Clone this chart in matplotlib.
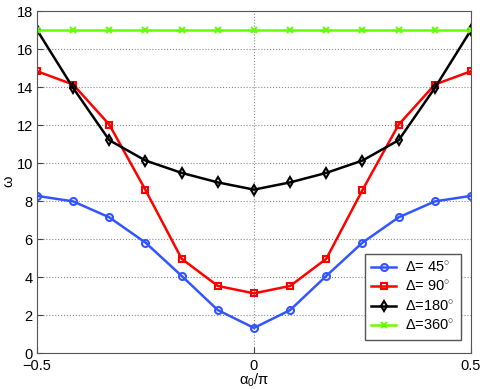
import numpy as np
import matplotlib
matplotlib.use('Agg')
import matplotlib.pyplot as plt

plt.rcParams['font.family'] = ['Liberation Sans', 'DejaVu Sans']
plt.rcParams['mathtext.fontset'] = 'custom'
plt.rcParams['mathtext.rm'] = 'Liberation Sans'
plt.rcParams['mathtext.it'] = 'Liberation Sans'

# alpha_0/pi sample points
alpha = [-0.5, -5/12, -4/12, -3/12, -2/12, -1/12, 0, 1/12, 2/12, 3/12, 4/12, 5/12, 0.5]

# omega for each Delta
w45 = [8.27, 7.98, 7.14, 5.81, 4.06, 2.26, 1.32, 2.26, 4.06, 5.81, 7.14, 7.98, 8.27]
w90 = [14.83, 14.13, 12.02, 8.58, 4.96, 3.53, 3.14, 3.53, 4.96, 8.58, 12.02, 14.13, 14.83]
w180 = [17.0, 13.95, 11.2, 10.13, 9.48, 8.98, 8.6, 8.98, 9.48, 10.13, 11.2, 13.95, 17.0]
w360 = [17.0] * 13

labels = [r'$\Delta$= 45$^{\circ}$', r'$\Delta$= 90$^{\circ}$',
          r'$\Delta$=180$^{\circ}$', r'$\Delta$=360$^{\circ}$']

fig = plt.figure(figsize=(4.84, 3.89), dpi=100)
ax = fig.add_axes([0.0764, 0.0925, 0.8967, 0.8792])

ax.plot(alpha, w45, '-o', color='#3355ff', lw=1.8, ms=5, mfc='none', mew=1.5, label=labels[0])
ax.plot(alpha, w90, '-s', color='#ff0000', lw=1.8, ms=5, mfc='none', mew=1.5, label=labels[1])
ax.plot(alpha, w180, '-d', color='black', lw=1.8, ms=5, mfc='none', mew=1.5, label=labels[2])
ax.plot(alpha, w360, '-x', color='#66ff00', lw=1.8, ms=4, mew=1.5, label=labels[3])

ax.set_xlim(-0.5, 0.5)
ax.set_ylim(0, 18)
ax.set_xticks([-0.5, 0, 0.5])
ax.set_xticklabels(['\u22120.5', '0', '0.5'])
ax.set_yticks(range(0, 19, 2))
ax.tick_params(direction='in', labelsize=10.5, length=4, color='#444444')
ax.tick_params(axis='x', pad=4)
ax.tick_params(axis='y', pad=3)
ax.grid(True, linestyle=':', color='#888888', lw=0.8)
for s in ax.spines.values():
    s.set_color('#555555')

ax.set_xlabel(r'$\alpha_0/\pi$', fontsize=10.5, labelpad=-1)
ax.set_ylabel(r'$\omega$', fontsize=10.5)
ax.yaxis.set_label_coords(-0.048, 0.5)

leg = ax.legend(loc='lower right', bbox_to_anchor=(0.976, 0.038), fontsize=10.5,
                fancybox=False, edgecolor='#555555', framealpha=1,
                handlelength=1.7, handletextpad=0.6, borderpad=0.45,
                labelspacing=0.35, borderaxespad=0)
leg.get_frame().set_linewidth(1.0)

plt.savefig('out.png', dpi=100)
plt.close()
